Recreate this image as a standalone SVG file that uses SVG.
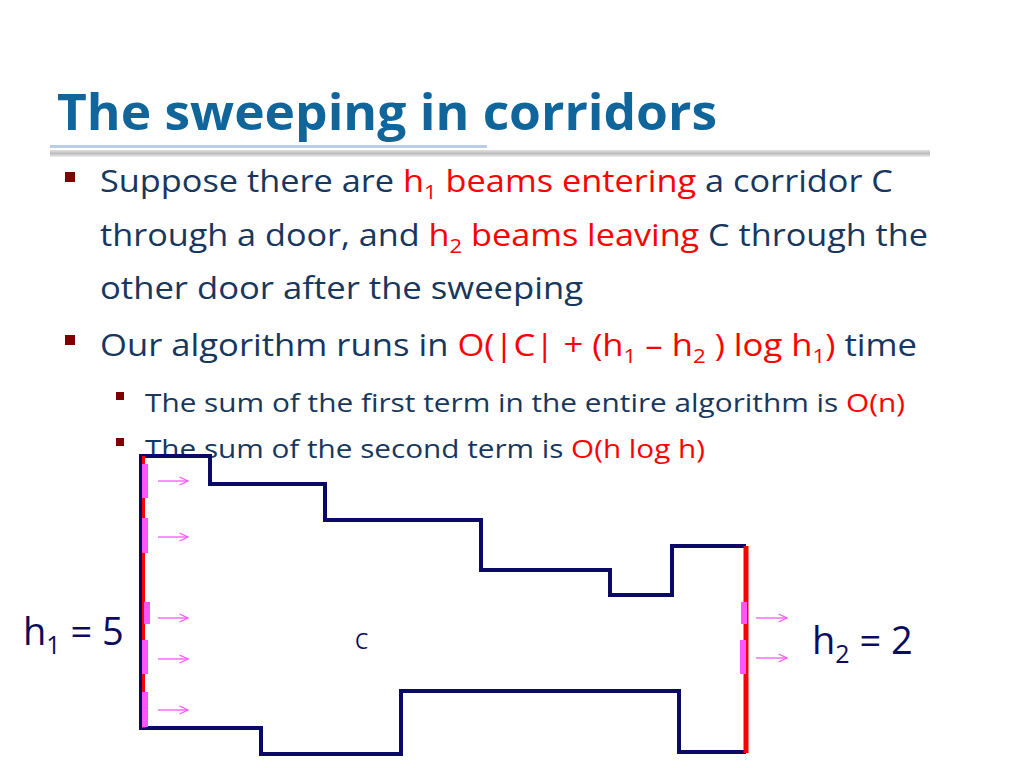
<svg xmlns="http://www.w3.org/2000/svg" width="1024" height="768" viewBox="0 0 1024 768">
<defs>
<linearGradient id="shadow" x1="0" y1="0" x2="0" y2="1">
<stop offset="0" stop-color="#e0e0e0"/>
<stop offset="0.5" stop-color="#bdbdbd"/>
<stop offset="1" stop-color="#efefef"/>
</linearGradient>
<marker id="ah" viewBox="0 0 10 10" refX="9.5" refY="5" markerWidth="10" markerHeight="10" markerUnits="userSpaceOnUse" orient="auto">
<path d="M1,1 L9.5,5 L1,9" fill="none" stroke="#ff55ff" stroke-width="1.3"/>
</marker>
</defs>
<style>
.title{font-family:"Open Sans","DejaVu Sans",sans-serif;font-weight:bold;font-size:50px;fill:#10659a}
.body{font-family:"Open Sans","Noto Sans",sans-serif;font-size:31px;fill:#17375e}
.sub{font-family:"Open Sans","Noto Sans",sans-serif;font-size:25px;fill:#17375e}
.red{fill:#ff0000}
.lbl{font-family:"Open Sans","Noto Sans",sans-serif;fill:#0c0c5e}
.bullet{fill:#7f0000}
.wall{fill:none;stroke:#0a0a66;stroke-width:4;stroke-linejoin:miter}
.door{stroke:#ff0000;fill:none}
.beam{stroke:#ff55ff;fill:none}
.arrow{stroke:#ff55ff;stroke-width:1.3;fill:none;marker-end:url(#ah)}
</style>
<rect width="1024" height="768" fill="#ffffff"/>

<g id="title">
<text class="title" x="57" y="130" textLength="660" lengthAdjust="spacingAndGlyphs">The sweeping in corridors</text>
<rect x="50" y="150" width="880" height="7" fill="url(#shadow)"/>
<rect x="50" y="145" width="437" height="3" fill="#b9cde5"/>
</g>

<g id="bullets">
<rect class="bullet" x="65" y="172" width="10" height="10"/>
<rect class="bullet" x="65" y="335" width="10" height="10"/>
<rect class="bullet" x="116" y="392" width="8" height="8"/>
<rect class="bullet" x="116" y="438" width="8" height="8"/>
<text class="body" x="100" y="192" textLength="793" lengthAdjust="spacingAndGlyphs">Suppose there are <tspan class="red">h<tspan font-size="20" dy="7">1</tspan><tspan dy="-7"> beams entering</tspan></tspan> a corridor C</text>
<text class="body" x="100" y="246" textLength="828" lengthAdjust="spacingAndGlyphs">through a door, and <tspan class="red">h<tspan font-size="20" dy="7">2</tspan><tspan dy="-7"> beams leaving</tspan></tspan> C through the</text>
<text class="body" x="100" y="299" textLength="483" lengthAdjust="spacingAndGlyphs">other door after the sweeping</text>
<text class="body" x="100" y="356" textLength="817" lengthAdjust="spacingAndGlyphs">Our algorithm runs in <tspan class="red">O(|C| + (h<tspan font-size="20" dy="7">1</tspan><tspan dy="-7"> – h</tspan><tspan font-size="20" dy="7">2</tspan><tspan dy="-7"> ) log h</tspan><tspan font-size="20" dy="7">1</tspan><tspan dy="-7">)</tspan></tspan> time</text>
<text class="sub" x="145" y="412" textLength="760" lengthAdjust="spacingAndGlyphs">The sum of the first term in the entire algorithm is <tspan class="red">O(n)</tspan></text>
<text class="sub" x="145" y="458" textLength="560" lengthAdjust="spacingAndGlyphs">The sum of the second term is <tspan class="red">O(h log h)</tspan></text>
</g>

<g id="corridor">
<path class="wall" d="M746,546 H672 V595 H610 V570 H481 V520 H325 V484 H210 V456 H141 V728 H261 V754 H401 V691 H679 V752 H746"/>
</g>

<g id="door-left">
<line class="door" x1="143.5" y1="456" x2="143.5" y2="728" stroke-width="3"/>
<line class="beam" x1="145" y1="464" x2="145" y2="498" stroke-width="6"/>
<line class="beam" x1="145" y1="518" x2="145" y2="553" stroke-width="6"/>
<line class="beam" x1="147" y1="602" x2="147" y2="624" stroke-width="6"/>
<line class="beam" x1="145" y1="640" x2="145" y2="674" stroke-width="6"/>
<line class="beam" x1="145" y1="692" x2="145" y2="727" stroke-width="6"/>
</g>

<g id="door-right">
<line class="door" x1="746" y1="546" x2="746" y2="753" stroke-width="5"/>
<line class="beam" x1="744" y1="602" x2="744" y2="624" stroke-width="6"/>
<line class="beam" x1="743" y1="640" x2="743" y2="674" stroke-width="6"/>
</g>

<g id="connectors">
<line class="arrow" x1="158" y1="481" x2="188" y2="481"/>
<line class="arrow" x1="158" y1="537" x2="188" y2="537"/>
<line class="arrow" x1="158" y1="618" x2="188" y2="618"/>
<line class="arrow" x1="158" y1="659" x2="188" y2="659"/>
<line class="arrow" x1="158" y1="710" x2="188" y2="710"/>
<line class="arrow" x1="756" y1="618" x2="787" y2="618"/>
<line class="arrow" x1="756" y1="658" x2="787" y2="658"/>
</g>

<g id="labels">
<text class="lbl" x="23" y="645" font-size="38">h<tspan font-size="25" dy="9">1</tspan><tspan dy="-9"> = 5</tspan></text>
<text class="lbl" x="355" y="649" font-size="21">C</text>
<text class="lbl" x="812" y="654" font-size="38">h<tspan font-size="25" dy="9">2</tspan><tspan dy="-9"> = 2</tspan></text>
</g>
</svg>
